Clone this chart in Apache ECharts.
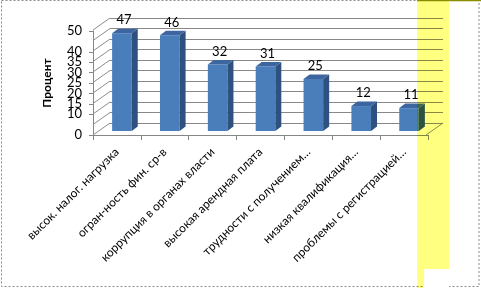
<!DOCTYPE html>
<html><head><meta charset="utf-8">
<script src="https://cdn.jsdelivr.net/npm/echarts@6/dist/echarts.min.js"></script>
<style>html,body{margin:0;padding:0;background:#fff}#c{width:481px;height:288px}</style>
</head><body><div id="c"></div>
<script>
var categories = ['высок. налог. нагрузка','огран-ность фин. ср-в','коррупция в органах власти','высокая арендная плата','трудности с получением…','низкая квалификация…','проблемы с регистрацией…'];
var values = [47, 46, 32, 31, 25, 12, 11];
var yTicks = [0,5,10,15,20,25,30,35,40,45,50];
var yTitle = 'Процент';

var FONT = 'Lato';
var DX = -17, DY = 12; // front offset relative to back wall
var chart = echarts.init(document.getElementById('c'), null, {renderer:'canvas'});

function barRender(params, api){
  var i = api.value(0), v = api.value(1);
  var p0 = api.coord([i, 0]), p1 = api.coord([i, v]);
  var band = api.size([1, 0])[0];
  var w = band * 0.41;
  var cx = p0[0] + 5, yb = p0[1] - 4, yt = p1[1] - 4;
  var x0 = cx - w/2, x1 = cx + w/2;
  var dx = 6, dy = -4.5;
  return {type:'group', children:[
    {type:'rect', shape:{x:x0, y:yt, width:w, height:yb-yt}, style:{fill:'#4a7ebb'}},
    {type:'polygon', shape:{points:[[x1,yt],[x1+dx,yt+dy],[x1+dx,yb+dy],[x1,yb]]}, style:{fill:'#2f5180'}},
    {type:'polygon', shape:{points:[[x0,yt],[x0+dx,yt+dy],[x1+dx,yt+dy],[x1,yt]]}, style:{fill:'#3d66a0'}},
    {type:'text', style:{text:String(v), x:cx+2, y:yt-13, align:'center', verticalAlign:'middle', font:'13px '+FONT, fill:'#000'}}
  ]};
}

function diagRender(params, api){
  var v = api.value(1);
  var band = api.size([1, 0])[0];
  var c0 = api.coord([0, v]);
  var lx = c0[0] - band/2, ly = c0[1];
  var children = [{type:'line', shape:{x1:lx, y1:ly, x2:lx+DX, y2:ly+DY}, style:{stroke:'#8c8c8c', lineWidth:1}}];
  if (v === 0) {
    var br = api.coord([categories.length-1, 0]);
    var rx = br[0] + band/2;
    children.push({type:'line', shape:{x1:rx, y1:br[1], x2:rx+DX, y2:br[1]+DY}, style:{stroke:'#8c8c8c', lineWidth:1}});
  }
  return {type:'group', children:children};
}

chart.setOption({
  animation:false,
  grid:[
    {left:110, top:18, width:333, height:105, containLabel:false, outerBoundsMode:'none'},
    {left:93, top:31, width:335, height:104, containLabel:false, outerBoundsMode:'none'}
  ],
  xAxis:[
    {gridIndex:0, type:'category', data:categories, axisLine:{show:false}, axisTick:{show:false}, axisLabel:{show:false}},
    {gridIndex:1, type:'category', data:categories, axisLine:{show:true, onZero:false, lineStyle:{color:'#868686', width:1}},
     axisTick:{show:true, length:5, lineStyle:{color:'#868686'}},
     axisLabel:{rotate:45, margin:15, fontFamily:FONT, fontSize:12, color:'#000', interval:0}}
  ],
  yAxis:[
    {gridIndex:0, type:'value', min:0, max:50, interval:5, axisLine:{show:false}, axisTick:{show:false}, axisLabel:{show:false},
     splitLine:{show:true, lineStyle:{color:'#888888'}}},
    {gridIndex:1, type:'value', min:0, max:50, interval:5, axisLine:{show:true, onZero:false, lineStyle:{color:'#868686', width:1}},
     axisTick:{show:true, length:4, lineStyle:{color:'#868686'}}, splitLine:{show:false},
     axisLabel:{margin:11, fontFamily:FONT, fontSize:13, color:'#000', showMinLabel:true, showMaxLabel:true, hideOverlap:false},
     name:yTitle, nameLocation:'middle', nameRotate:90, nameGap:40,
     nameTextStyle:{fontFamily:FONT, fontSize:12, fontWeight:'bold', color:'#000'}}
  ],
  series:[
    {type:'custom', xAxisIndex:0, yAxisIndex:0, data:yTicks.map(function(t){return [0, t];}), renderItem:diagRender, encode:{x:0, y:1}, silent:true, z:1, clip:false},
    {type:'custom', xAxisIndex:1, yAxisIndex:1, data:values.map(function(v,i){return [i,v];}), renderItem:barRender, encode:{x:0,y:1}, z:5, clip:false}
  ],
  graphic:[
    {type:'rect', z:100, shape:{x:417, y:0, width:32, height:288}, style:{fill:'#ffff80', blend:'multiply'}},
    {type:'rect', z:101, shape:{x:424, y:269, width:25, height:19}, style:{fill:'#fff'}},
    {type:'group', z:102, children:[273,276,279,282,285].map(function(y){return {type:'line', shape:{x1:433,y1:y+0.5,x2:449,y2:y+0.5}, style:{stroke:'#ffff60', lineWidth:1}};})},
    {type:'line', z:103, shape:{x1:417, y1:0.5, x2:481, y2:0.5}, style:{stroke:'#8c8c00', lineWidth:1.5}},
    {type:'rect', z:99, shape:{x:1.5, y:0.5, width:477.5, height:286}, style:{fill:'none', stroke:'#8a8a8a', lineWidth:1, lineDash:[2,2]}}
  ]
});
</script></body></html>
